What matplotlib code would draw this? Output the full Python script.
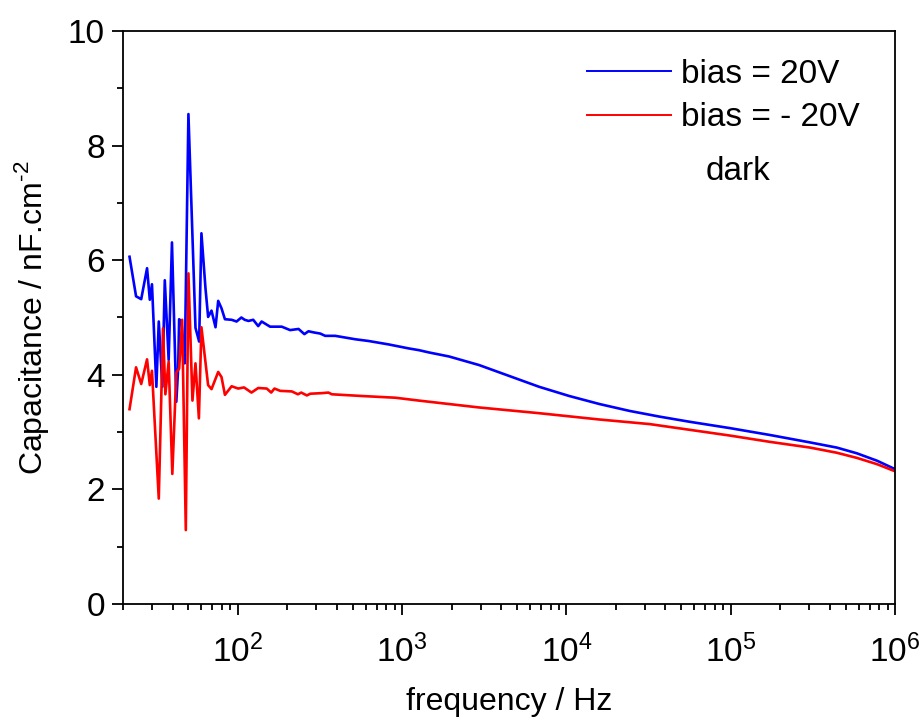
#!/usr/bin/env python3
"""Capacitance vs frequency (dark) for +/-20V bias."""

from __future__ import annotations

import matplotlib

matplotlib.use("Agg")
import matplotlib.pyplot as plt
from matplotlib.ticker import LogLocator, MultipleLocator, NullFormatter

# --- data ------------------------------------------------------------------
freq_pos = [
    21.9, 24.0, 25.8, 28.0, 29.1, 30.0, 31.9, 33.0, 34.7, 35.9,
    37.9, 39.7, 42.2, 43.3, 43.9, 45.3, 47.5, 50.0, 55.2, 58.1,
    60.0, 63.5, 65.9, 69.1, 73.1, 75.9, 79.5, 83.4, 91.6, 98.2,
    105, 110, 116, 124, 133, 139.5, 157, 185, 208, 234,
    254, 269, 289, 317, 340, 391, 519, 625, 828, 1098,
    1265, 1456, 1928, 2940, 4480, 6830, 10400, 15880, 24200, 36900,
    56300, 98700, 173000, 304000, 442000, 586000, 778000, 973000, 1e6,
]
cap_pos = [
    6.06, 5.37, 5.32, 5.86, 5.31, 5.58, 3.79, 4.93, 3.79, 5.65,
    4.26, 6.31, 3.53, 4.11, 4.97, 4.93, 4.20, 8.55, 4.82, 4.58,
    6.47, 5.51, 5.01, 5.12, 4.83, 5.29, 5.16, 4.97, 4.96, 4.93,
    5.00, 4.96, 4.94, 4.96, 4.85, 4.93, 4.84, 4.84, 4.78, 4.80,
    4.71, 4.76, 4.74, 4.72, 4.68, 4.68, 4.62, 4.59, 4.53, 4.46,
    4.43, 4.39, 4.32, 4.17, 3.98, 3.79, 3.63, 3.49, 3.37, 3.27,
    3.18, 3.07, 2.95, 2.82, 2.73, 2.63, 2.50, 2.37, 2.35,
]

freq_neg = [
    21.9, 24.0, 25.8, 28.0, 29.1, 30.0, 33.0, 35.0, 36.2, 37.9,
    39.9, 42.2, 43.9, 45.8, 48.2, 50.0, 52.9, 55.2, 57.9, 60.0,
    65.9, 69.1, 75.9, 79.5, 83.4, 91.6, 100.5, 109, 121, 133,
    150, 159.5, 167, 181, 213, 232, 243, 263, 276, 324,
    356, 373, 570, 910, 1265, 1456, 2940, 6830, 15880, 32100,
    56300, 98700, 173000, 304000, 442000, 586000, 778000, 973000, 1e6,
]
cap_neg = [
    3.40, 4.13, 3.84, 4.27, 3.82, 4.07, 1.84, 4.81, 3.66, 4.23,
    2.27, 4.04, 4.11, 4.96, 1.29, 5.77, 3.55, 4.20, 3.24, 4.83,
    3.82, 3.75, 4.05, 3.96, 3.65, 3.80, 3.76, 3.78, 3.69, 3.77,
    3.76, 3.69, 3.76, 3.72, 3.71, 3.66, 3.69, 3.64, 3.67, 3.68,
    3.69, 3.66, 3.63, 3.60, 3.55, 3.53, 3.43, 3.33, 3.22, 3.14,
    3.04, 2.94, 2.83, 2.73, 2.64, 2.55, 2.44, 2.33, 2.32,
]

labels = ["bias = 20V", "bias = - 20V"]
colors = ["#0000ff", "#ff0000"]


def main() -> None:
    plt.rcParams["font.family"] = ["Liberation Sans", "DejaVu Sans"]
    plt.rcParams["mathtext.fontset"] = "custom"
    plt.rcParams["mathtext.rm"] = "Liberation Sans"

    fig = plt.figure(figsize=(9.21, 7.22), dpi=100)
    ax = fig.add_axes([0.1336, 0.1634, 0.8382, 0.7937])

    ax.plot(freq_pos, cap_pos, color=colors[0], lw=1.9, label=labels[0])
    ax.plot(freq_neg, cap_neg, color=colors[1], lw=1.9, label=labels[1])

    ax.set_xscale("log")
    ax.set_xlim(20, 1e6)
    ax.set_ylim(0, 10)

    ax.xaxis.set_major_locator(LogLocator(base=10, numticks=10))
    ax.xaxis.set_minor_locator(LogLocator(base=10, subs=range(2, 10), numticks=20))
    ax.xaxis.set_minor_formatter(NullFormatter())
    ax.yaxis.set_major_locator(MultipleLocator(2))
    ax.yaxis.set_minor_locator(MultipleLocator(1))

    for side in ax.spines.values():
        side.set_linewidth(1.3)
    ax.tick_params(which="major", direction="out", length=8, width=1.3,
                   top=False, right=False)
    ax.tick_params(which="minor", direction="out", length=4, width=1.3,
                   top=False, right=False)
    ax.tick_params(axis="y", labelsize=24, pad=5)
    ax.tick_params(axis="x", labelsize=24, pad=14)

    ax.set_xlabel("frequency / Hz", fontsize=23, labelpad=13)
    ax.set_ylabel(r"Capacitance / nF.cm$^{\text{-}2}$", fontsize=23, labelpad=12)

    leg = ax.legend(loc="upper left", bbox_to_anchor=(0.584, 0.975), frameon=False,
                    fontsize=24, handlelength=2.5, handletextpad=0.3,
                    labelspacing=0.38, borderaxespad=0.0)
    for line in leg.get_lines():
        line.set_linewidth(1.4)

    ax.text(0.797, 0.754, "dark", transform=ax.transAxes, fontsize=24,
            ha="center", va="center")

    fig.savefig("out.png", dpi=100)
    plt.close(fig)


if __name__ == "__main__":
    main()
